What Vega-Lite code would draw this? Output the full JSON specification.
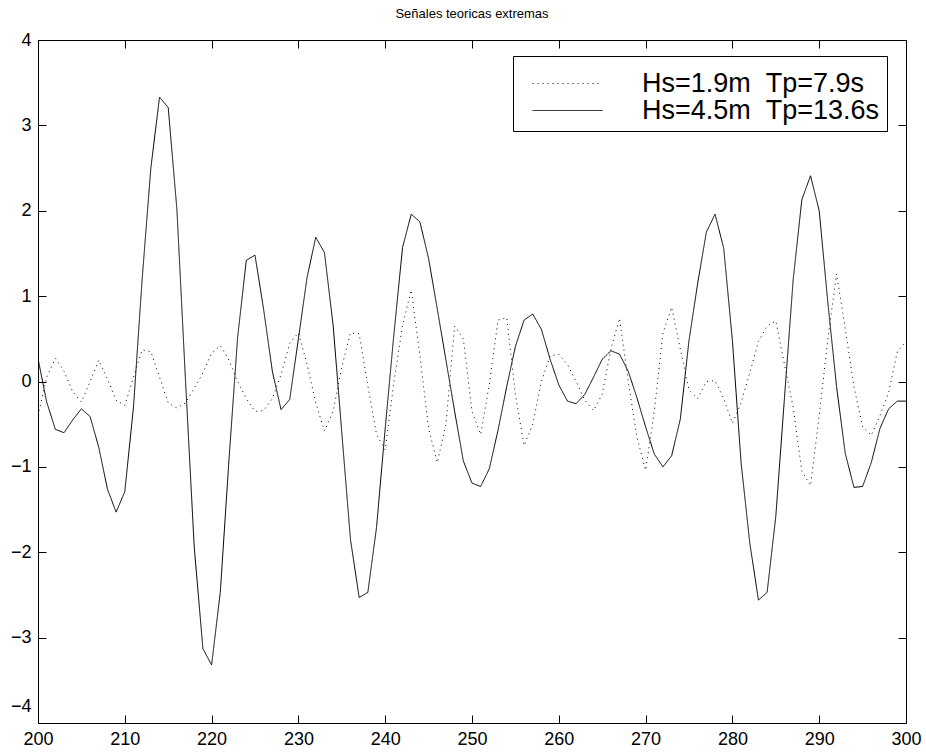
{
  "$schema": "https://vega.github.io/schema/vega-lite/v6.json",
  "width": 868,
  "height": 683,
  "autosize": {"type": "none"},
  "padding": {"left": 38, "top": 40, "right": 20, "bottom": 31},
  "background": "white",
  "title": {"text": "Señales teoricas extremas", "font": "Liberation Sans", "fontSize": 13, "fontWeight": "normal", "color": "black", "offset": 0, "baseline": "alphabetic", "anchor": "middle"},
  "config": {
    "view": {"stroke": null},
    "axis": {"domainColor": "black", "domainWidth": 1, "tickColor": "black", "tickSize": -8, "labelColor": "black", "labelFont": "Liberation Sans", "labelFontSize": 18, "grid": false, "title": null, "labelFlush": false, "labelOverlap": false},
    "legend": {"orient": "none", "legendX": 475, "legendY": 16, "strokeColor": "black", "fillColor": "white", "padding": 7, "symbolType": "M-0.14,0H9.86", "symbolSize": 196, "symbolStrokeWidth": 1, "symbolStrokeColor": "black", "labelFont": "Liberation Sans", "labelFontSize": 27, "labelColor": "black", "labelOffset": 95, "rowPadding": -3, "labelLimit": 400, "titleFontSize": 5, "titlePadding": 2, "titleColor": "white"}
  },
  "data": {"values": [
    {"t":200,"v":-0.4,"s":"a"},{"t":201,"v":0.05,"s":"a"},{"t":202,"v":0.27,"s":"a"},{"t":203,"v":0.12,"s":"a"},{"t":204,"v":-0.12,"s":"a"},{"t":205,"v":-0.24,"s":"a"},{"t":206,"v":0.0,"s":"a"},{"t":207,"v":0.25,"s":"a"},{"t":208,"v":0.03,"s":"a"},{"t":209,"v":-0.22,"s":"a"},
    {"t":210,"v":-0.28,"s":"a"},{"t":211,"v":0.05,"s":"a"},{"t":212,"v":0.37,"s":"a"},{"t":213,"v":0.35,"s":"a"},{"t":214,"v":0.05,"s":"a"},{"t":215,"v":-0.25,"s":"a"},{"t":216,"v":-0.31,"s":"a"},{"t":217,"v":-0.25,"s":"a"},{"t":218,"v":-0.08,"s":"a"},{"t":219,"v":0.1,"s":"a"},
    {"t":220,"v":0.33,"s":"a"},{"t":221,"v":0.42,"s":"a"},{"t":222,"v":0.25,"s":"a"},{"t":223,"v":0.0,"s":"a"},{"t":224,"v":-0.2,"s":"a"},{"t":225,"v":-0.35,"s":"a"},{"t":226,"v":-0.34,"s":"a"},{"t":227,"v":-0.2,"s":"a"},{"t":228,"v":0.08,"s":"a"},{"t":229,"v":0.45,"s":"a"},
    {"t":230,"v":0.57,"s":"a"},{"t":231,"v":0.2,"s":"a"},{"t":232,"v":-0.25,"s":"a"},{"t":233,"v":-0.58,"s":"a"},{"t":234,"v":-0.35,"s":"a"},{"t":235,"v":0.17,"s":"a"},{"t":236,"v":0.57,"s":"a"},{"t":237,"v":0.56,"s":"a"},{"t":238,"v":-0.05,"s":"a"},{"t":239,"v":-0.62,"s":"a"},
    {"t":240,"v":-0.8,"s":"a"},{"t":241,"v":-0.01,"s":"a"},{"t":242,"v":0.66,"s":"a"},{"t":243,"v":1.07,"s":"a"},{"t":244,"v":0.3,"s":"a"},{"t":245,"v":-0.55,"s":"a"},{"t":246,"v":-0.95,"s":"a"},{"t":247,"v":-0.5,"s":"a"},{"t":248,"v":0.65,"s":"a"},{"t":249,"v":0.5,"s":"a"},
    {"t":250,"v":-0.35,"s":"a"},{"t":251,"v":-0.62,"s":"a"},{"t":252,"v":-0.03,"s":"a"},{"t":253,"v":0.72,"s":"a"},{"t":254,"v":0.75,"s":"a"},{"t":255,"v":-0.15,"s":"a"},{"t":256,"v":-0.75,"s":"a"},{"t":257,"v":-0.5,"s":"a"},{"t":258,"v":0.0,"s":"a"},{"t":259,"v":0.3,"s":"a"},
    {"t":260,"v":0.32,"s":"a"},{"t":261,"v":0.2,"s":"a"},{"t":262,"v":0.0,"s":"a"},{"t":263,"v":-0.22,"s":"a"},{"t":264,"v":-0.34,"s":"a"},{"t":265,"v":-0.15,"s":"a"},{"t":266,"v":0.38,"s":"a"},{"t":267,"v":0.74,"s":"a"},{"t":268,"v":0.0,"s":"a"},{"t":269,"v":-0.65,"s":"a"},
    {"t":270,"v":-1.04,"s":"a"},{"t":271,"v":-0.35,"s":"a"},{"t":272,"v":0.57,"s":"a"},{"t":273,"v":0.87,"s":"a"},{"t":274,"v":0.38,"s":"a"},{"t":275,"v":-0.1,"s":"a"},{"t":276,"v":-0.2,"s":"a"},{"t":277,"v":0.0,"s":"a"},{"t":278,"v":0.01,"s":"a"},{"t":279,"v":-0.2,"s":"a"},
    {"t":280,"v":-0.49,"s":"a"},{"t":281,"v":-0.25,"s":"a"},{"t":282,"v":0.1,"s":"a"},{"t":283,"v":0.47,"s":"a"},{"t":284,"v":0.65,"s":"a"},{"t":285,"v":0.71,"s":"a"},{"t":286,"v":0.2,"s":"a"},{"t":287,"v":-0.3,"s":"a"},{"t":288,"v":-1.05,"s":"a"},{"t":289,"v":-1.22,"s":"a"},
    {"t":290,"v":-0.4,"s":"a"},{"t":291,"v":0.5,"s":"a"},{"t":292,"v":1.26,"s":"a"},{"t":293,"v":0.62,"s":"a"},{"t":294,"v":-0.06,"s":"a"},{"t":295,"v":-0.53,"s":"a"},{"t":296,"v":-0.63,"s":"a"},{"t":297,"v":-0.4,"s":"a"},{"t":298,"v":-0.13,"s":"a"},{"t":299,"v":0.35,"s":"a"},
    {"t":300,"v":0.47,"s":"a"},
    {"t":200,"v":0.27,"s":"b"},{"t":201,"v":-0.24,"s":"b"},{"t":202,"v":-0.56,"s":"b"},{"t":203,"v":-0.6,"s":"b"},{"t":204,"v":-0.45,"s":"b"},{"t":205,"v":-0.32,"s":"b"},{"t":206,"v":-0.41,"s":"b"},{"t":207,"v":-0.77,"s":"b"},{"t":208,"v":-1.26,"s":"b"},{"t":209,"v":-1.53,"s":"b"},
    {"t":210,"v":-1.29,"s":"b"},{"t":211,"v":-0.3,"s":"b"},{"t":212,"v":1.2,"s":"b"},{"t":213,"v":2.5,"s":"b"},{"t":214,"v":3.33,"s":"b"},{"t":215,"v":3.21,"s":"b"},{"t":216,"v":2.02,"s":"b"},{"t":217,"v":0.0,"s":"b"},{"t":218,"v":-1.94,"s":"b"},{"t":219,"v":-3.13,"s":"b"},
    {"t":220,"v":-3.32,"s":"b"},{"t":221,"v":-2.47,"s":"b"},{"t":222,"v":-0.92,"s":"b"},{"t":223,"v":0.52,"s":"b"},{"t":224,"v":1.42,"s":"b"},{"t":225,"v":1.48,"s":"b"},{"t":226,"v":0.84,"s":"b"},{"t":227,"v":0.12,"s":"b"},{"t":228,"v":-0.33,"s":"b"},{"t":229,"v":-0.21,"s":"b"},
    {"t":230,"v":0.5,"s":"b"},{"t":231,"v":1.22,"s":"b"},{"t":232,"v":1.69,"s":"b"},{"t":233,"v":1.51,"s":"b"},{"t":234,"v":0.66,"s":"b"},{"t":235,"v":-0.6,"s":"b"},{"t":236,"v":-1.85,"s":"b"},{"t":237,"v":-2.53,"s":"b"},{"t":238,"v":-2.47,"s":"b"},{"t":239,"v":-1.71,"s":"b"},
    {"t":240,"v":-0.55,"s":"b"},{"t":241,"v":0.55,"s":"b"},{"t":242,"v":1.57,"s":"b"},{"t":243,"v":1.96,"s":"b"},{"t":244,"v":1.87,"s":"b"},{"t":245,"v":1.44,"s":"b"},{"t":246,"v":0.85,"s":"b"},{"t":247,"v":0.25,"s":"b"},{"t":248,"v":-0.35,"s":"b"},{"t":249,"v":-0.93,"s":"b"},
    {"t":250,"v":-1.19,"s":"b"},{"t":251,"v":-1.23,"s":"b"},{"t":252,"v":-1.02,"s":"b"},{"t":253,"v":-0.57,"s":"b"},{"t":254,"v":-0.06,"s":"b"},{"t":255,"v":0.41,"s":"b"},{"t":256,"v":0.72,"s":"b"},{"t":257,"v":0.79,"s":"b"},{"t":258,"v":0.61,"s":"b"},{"t":259,"v":0.26,"s":"b"},
    {"t":260,"v":-0.04,"s":"b"},{"t":261,"v":-0.23,"s":"b"},{"t":262,"v":-0.26,"s":"b"},{"t":263,"v":-0.15,"s":"b"},{"t":264,"v":0.05,"s":"b"},{"t":265,"v":0.26,"s":"b"},{"t":266,"v":0.36,"s":"b"},{"t":267,"v":0.32,"s":"b"},{"t":268,"v":0.12,"s":"b"},{"t":269,"v":-0.19,"s":"b"},
    {"t":270,"v":-0.53,"s":"b"},{"t":271,"v":-0.85,"s":"b"},{"t":272,"v":-1.0,"s":"b"},{"t":273,"v":-0.87,"s":"b"},{"t":274,"v":-0.44,"s":"b"},{"t":275,"v":0.48,"s":"b"},{"t":276,"v":1.15,"s":"b"},{"t":277,"v":1.75,"s":"b"},{"t":278,"v":1.96,"s":"b"},{"t":279,"v":1.56,"s":"b"},
    {"t":280,"v":0.48,"s":"b"},{"t":281,"v":-0.95,"s":"b"},{"t":282,"v":-1.89,"s":"b"},{"t":283,"v":-2.56,"s":"b"},{"t":284,"v":-2.47,"s":"b"},{"t":285,"v":-1.58,"s":"b"},{"t":286,"v":-0.19,"s":"b"},{"t":287,"v":1.19,"s":"b"},{"t":288,"v":2.13,"s":"b"},{"t":289,"v":2.41,"s":"b"},
    {"t":290,"v":2.0,"s":"b"},{"t":291,"v":0.92,"s":"b"},{"t":292,"v":-0.06,"s":"b"},{"t":293,"v":-0.84,"s":"b"},{"t":294,"v":-1.24,"s":"b"},{"t":295,"v":-1.23,"s":"b"},{"t":296,"v":-0.95,"s":"b"},{"t":297,"v":-0.55,"s":"b"},{"t":298,"v":-0.32,"s":"b"},{"t":299,"v":-0.23,"s":"b"},
    {"t":300,"v":-0.23,"s":"b"}
  ]},
  "layer": [
    {
      "mark": {"type": "line", "color": "black", "strokeWidth": 1, "clip": true},
      "encoding": {
        "x": {"field": "t", "type": "quantitative", "scale": {"domain": [200, 300], "nice": false, "zero": false},
              "axis": {"orient": "bottom", "values": [200,210,220,230,240,250,260,270,280,290,300], "format": "d", "labelPadding": 15}},
        "y": {"field": "v", "type": "quantitative", "scale": {"domain": [-4, 4], "nice": false, "zero": false},
              "axis": {"orient": "left", "values": [-4,-3,-2,-1,0,1,2,3,4], "format": "d", "labelPadding": 15,
                       "labelOffset": {"condition": {"test": "datum.value === -4", "value": -17}, "value": 0}}},
        "strokeDash": {"field": "s", "type": "nominal",
              "scale": {"domain": ["a", "b"], "range": [[1, 4], [1, 0]]},
              "legend": {"title": "\u00a0", "labelExpr": "datum.value === 'a' ? 'Hs=1.9m\u00a0\u00a0Tp=7.9s' : 'Hs=4.5m\u00a0\u00a0Tp=13.6s'"}}
      }
    },
    {
      "mark": {"type": "line", "strokeOpacity": 0, "color": "black"},
      "encoding": {
        "x": {"field": "t", "type": "quantitative", "axis": {"orient": "top", "values": [200,210,220,230,240,250,260,270,280,290,300], "labels": false}},
        "y": {"field": "v", "type": "quantitative", "axis": {"orient": "right", "values": [-4,-3,-2,-1,0,1,2,3,4], "labels": false}},
        "detail": {"field": "s", "type": "nominal"}
      }
    }
  ],
  "resolve": {"axis": {"x": "independent", "y": "independent"}}
}
